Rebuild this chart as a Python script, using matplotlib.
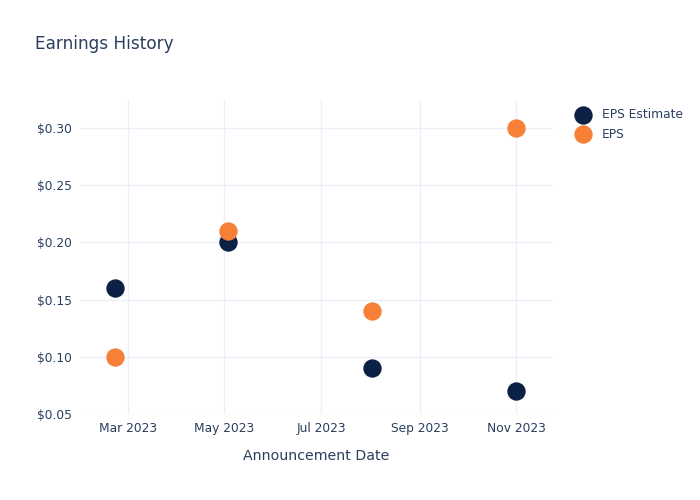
import pandas as pd
import matplotlib.pyplot as plt
import matplotlib.dates as mdates
from matplotlib.ticker import FuncFormatter

# Earnings data
dates = pd.to_datetime(["2023-02-21", "2023-05-03", "2023-08-02", "2023-11-01"])
eps_estimate = [0.16, 0.20, 0.09, 0.07]
eps_actual = [0.10, 0.21, 0.14, 0.30]

text_color = "#2a3f5f"
grid_color = "#ebf0f8"

fig = plt.figure(figsize=(7, 5), dpi=100)
ax = fig.add_axes([80 / 700, 1 - 414 / 500, (553 - 80) / 700, (414 - 100) / 500])

ax.scatter(dates, eps_estimate, s=175, color="#0c1f44", label="EPS Estimate", zorder=3, linewidths=0)
ax.scatter(dates, eps_actual, s=175, color="#f68038", label="EPS", zorder=3, linewidths=0)

ax.set_xlim(pd.Timestamp("2023-01-30"), pd.Timestamp("2023-11-24"))
ax.set_ylim(0.05, 0.3245)

ax.xaxis.set_major_locator(mdates.MonthLocator(bymonth=[3, 5, 7, 9, 11]))
ax.xaxis.set_major_formatter(mdates.DateFormatter("%b %Y"))
ax.set_yticks([0.05, 0.10, 0.15, 0.20, 0.25, 0.30])
ax.yaxis.set_major_formatter(FuncFormatter(lambda v, p: f"${v:.2f}"))

ax.grid(True, color=grid_color, linewidth=1)
ax.set_axisbelow(True)
for s in ax.spines.values():
    s.set_visible(False)
ax.tick_params(length=0, labelsize=8.8, colors=text_color, pad=6)

ax.set_xlabel("Announcement Date", fontsize=10.2, color=text_color, labelpad=10)
fig.text(35 / 700, 1 - 44 / 500, "Earnings History", fontsize=12.2, color=text_color, va="center")

fig.legend(loc="upper left", bbox_to_anchor=(566 / 700, 1 - 103 / 500), frameon=False,
           fontsize=8.8, labelcolor=text_color, handletextpad=0.55, labelspacing=0.55,
           markerscale=1.0, borderaxespad=0)

plt.savefig("out.png", dpi=100)
